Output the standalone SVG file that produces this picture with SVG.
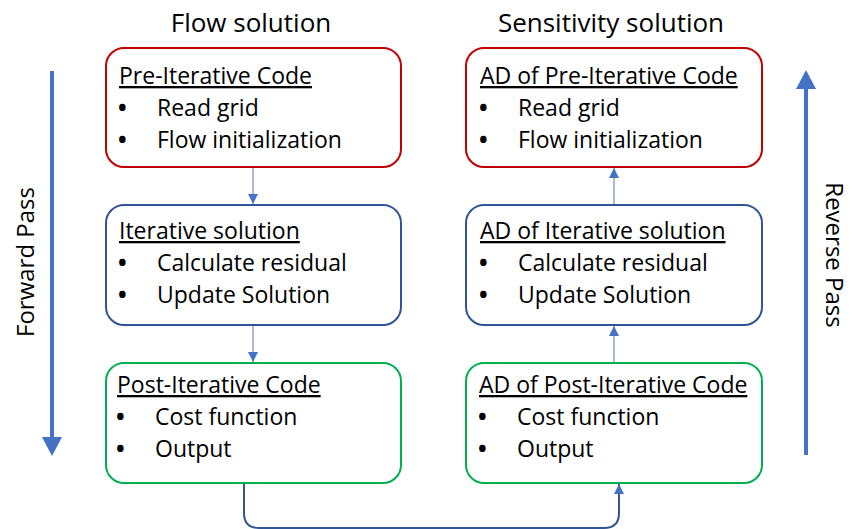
<svg xmlns="http://www.w3.org/2000/svg" width="855" height="529" viewBox="0 0 855 529">
<defs>
<style>
.t{font-family:"Open Sans","Liberation Sans",sans-serif;fill:#000}
.h{font-size:26px;text-anchor:middle}
.ti{font-size:23px;text-decoration:underline}
.b{font-size:23px}
.d{font-size:23px;font-weight:bold}
.box{fill:#fff;stroke-width:2}
.red{stroke:#C00000}
.blue{stroke:#2F5597}
.green{stroke:#00B050}
.side{font-size:24px;text-anchor:middle}
.conn{fill:none;stroke:#8FA3C8;stroke-width:1.5}
</style>
<marker id="ah" viewBox="0 0 10 10" refX="10" refY="5" markerWidth="10" markerHeight="10" markerUnits="userSpaceOnUse" orient="auto">
<path d="M0,0 L10,5 L0,10 z" fill="#4472C4"/>
</marker>
</defs>
<text class="t h" x="251" y="32">Flow solution</text>
<text class="t h" x="611" y="32">Sensitivity solution</text>

<g id="forward-pass">
<line x1="52" y1="71" x2="52" y2="438" stroke="#4472C4" stroke-width="4"/>
<path d="M42,437 L62,437 L52,456 z" fill="#4472C4"/>
<text class="t side" transform="translate(34,262) rotate(-90)">Forward Pass</text>
</g>
<g id="reverse-pass">
<line x1="806" y1="88" x2="806" y2="455" stroke="#4472C4" stroke-width="4"/>
<path d="M796,89 L816,89 L806,70 z" fill="#4472C4"/>
<text class="t side" transform="translate(826,255) rotate(90)">Reverse Pass</text>
</g>

<g id="connectors">
<line class="conn" x1="253" y1="167" x2="253" y2="204" marker-end="url(#ah)"/>
<line class="conn" x1="253" y1="325" x2="253" y2="362" marker-end="url(#ah)"/>
<line class="conn" x1="614" y1="205" x2="614" y2="168" marker-end="url(#ah)"/>
<line class="conn" x1="614" y1="363" x2="614" y2="326" marker-end="url(#ah)"/>
<path d="M244,483 L244,513 Q244,528 259,528 L604,528 Q619,528 619,513 L619,484" fill="none" stroke="#2F5597" stroke-width="2" marker-end="url(#ah)"/>
</g>

<g id="pre-iterative">
<rect class="box red" x="106" y="48" width="295" height="119" rx="18"/>
<text class="t ti" x="119" y="84">Pre-Iterative Code</text>
<text class="t d" x="118" y="116">•</text><text class="t b" x="157" y="116">Read grid</text>
<text class="t d" x="118" y="148">•</text><text class="t b" x="157" y="148">Flow initialization</text>
</g>
<g id="iterative">
<rect class="box blue" x="106" y="205" width="295" height="120" rx="18"/>
<text class="t ti" x="119" y="239">Iterative solution</text>
<text class="t d" x="118" y="271">•</text><text class="t b" x="157" y="271">Calculate residual</text>
<text class="t d" x="118" y="303">•</text><text class="t b" x="157" y="303">Update Solution</text>
</g>
<g id="post-iterative">
<rect class="box green" x="106" y="363" width="295" height="120" rx="18"/>
<text class="t ti" x="117" y="393">Post-Iterative Code</text>
<text class="t d" x="116" y="425">•</text><text class="t b" x="155" y="425">Cost function</text>
<text class="t d" x="116" y="457">•</text><text class="t b" x="155" y="457">Output</text>
</g>

<g id="ad-pre-iterative">
<rect class="box red" x="466" y="48" width="296" height="119" rx="18"/>
<text class="t ti" x="480" y="84">AD of Pre-Iterative Code</text>
<text class="t d" x="479" y="116">•</text><text class="t b" x="518" y="116">Read grid</text>
<text class="t d" x="479" y="148">•</text><text class="t b" x="518" y="148">Flow initialization</text>
</g>
<g id="ad-iterative">
<rect class="box blue" x="466" y="205" width="296" height="120" rx="18"/>
<text class="t ti" x="480" y="239">AD of Iterative solution</text>
<text class="t d" x="479" y="271">•</text><text class="t b" x="518" y="271">Calculate residual</text>
<text class="t d" x="479" y="303">•</text><text class="t b" x="518" y="303">Update Solution</text>
</g>
<g id="ad-post-iterative">
<rect class="box green" x="466" y="363" width="296" height="120" rx="18"/>
<text class="t ti" x="479" y="393">AD of Post-Iterative Code</text>
<text class="t d" x="478" y="425">•</text><text class="t b" x="517" y="425">Cost function</text>
<text class="t d" x="478" y="457">•</text><text class="t b" x="517" y="457">Output</text>
</g>
</svg>
